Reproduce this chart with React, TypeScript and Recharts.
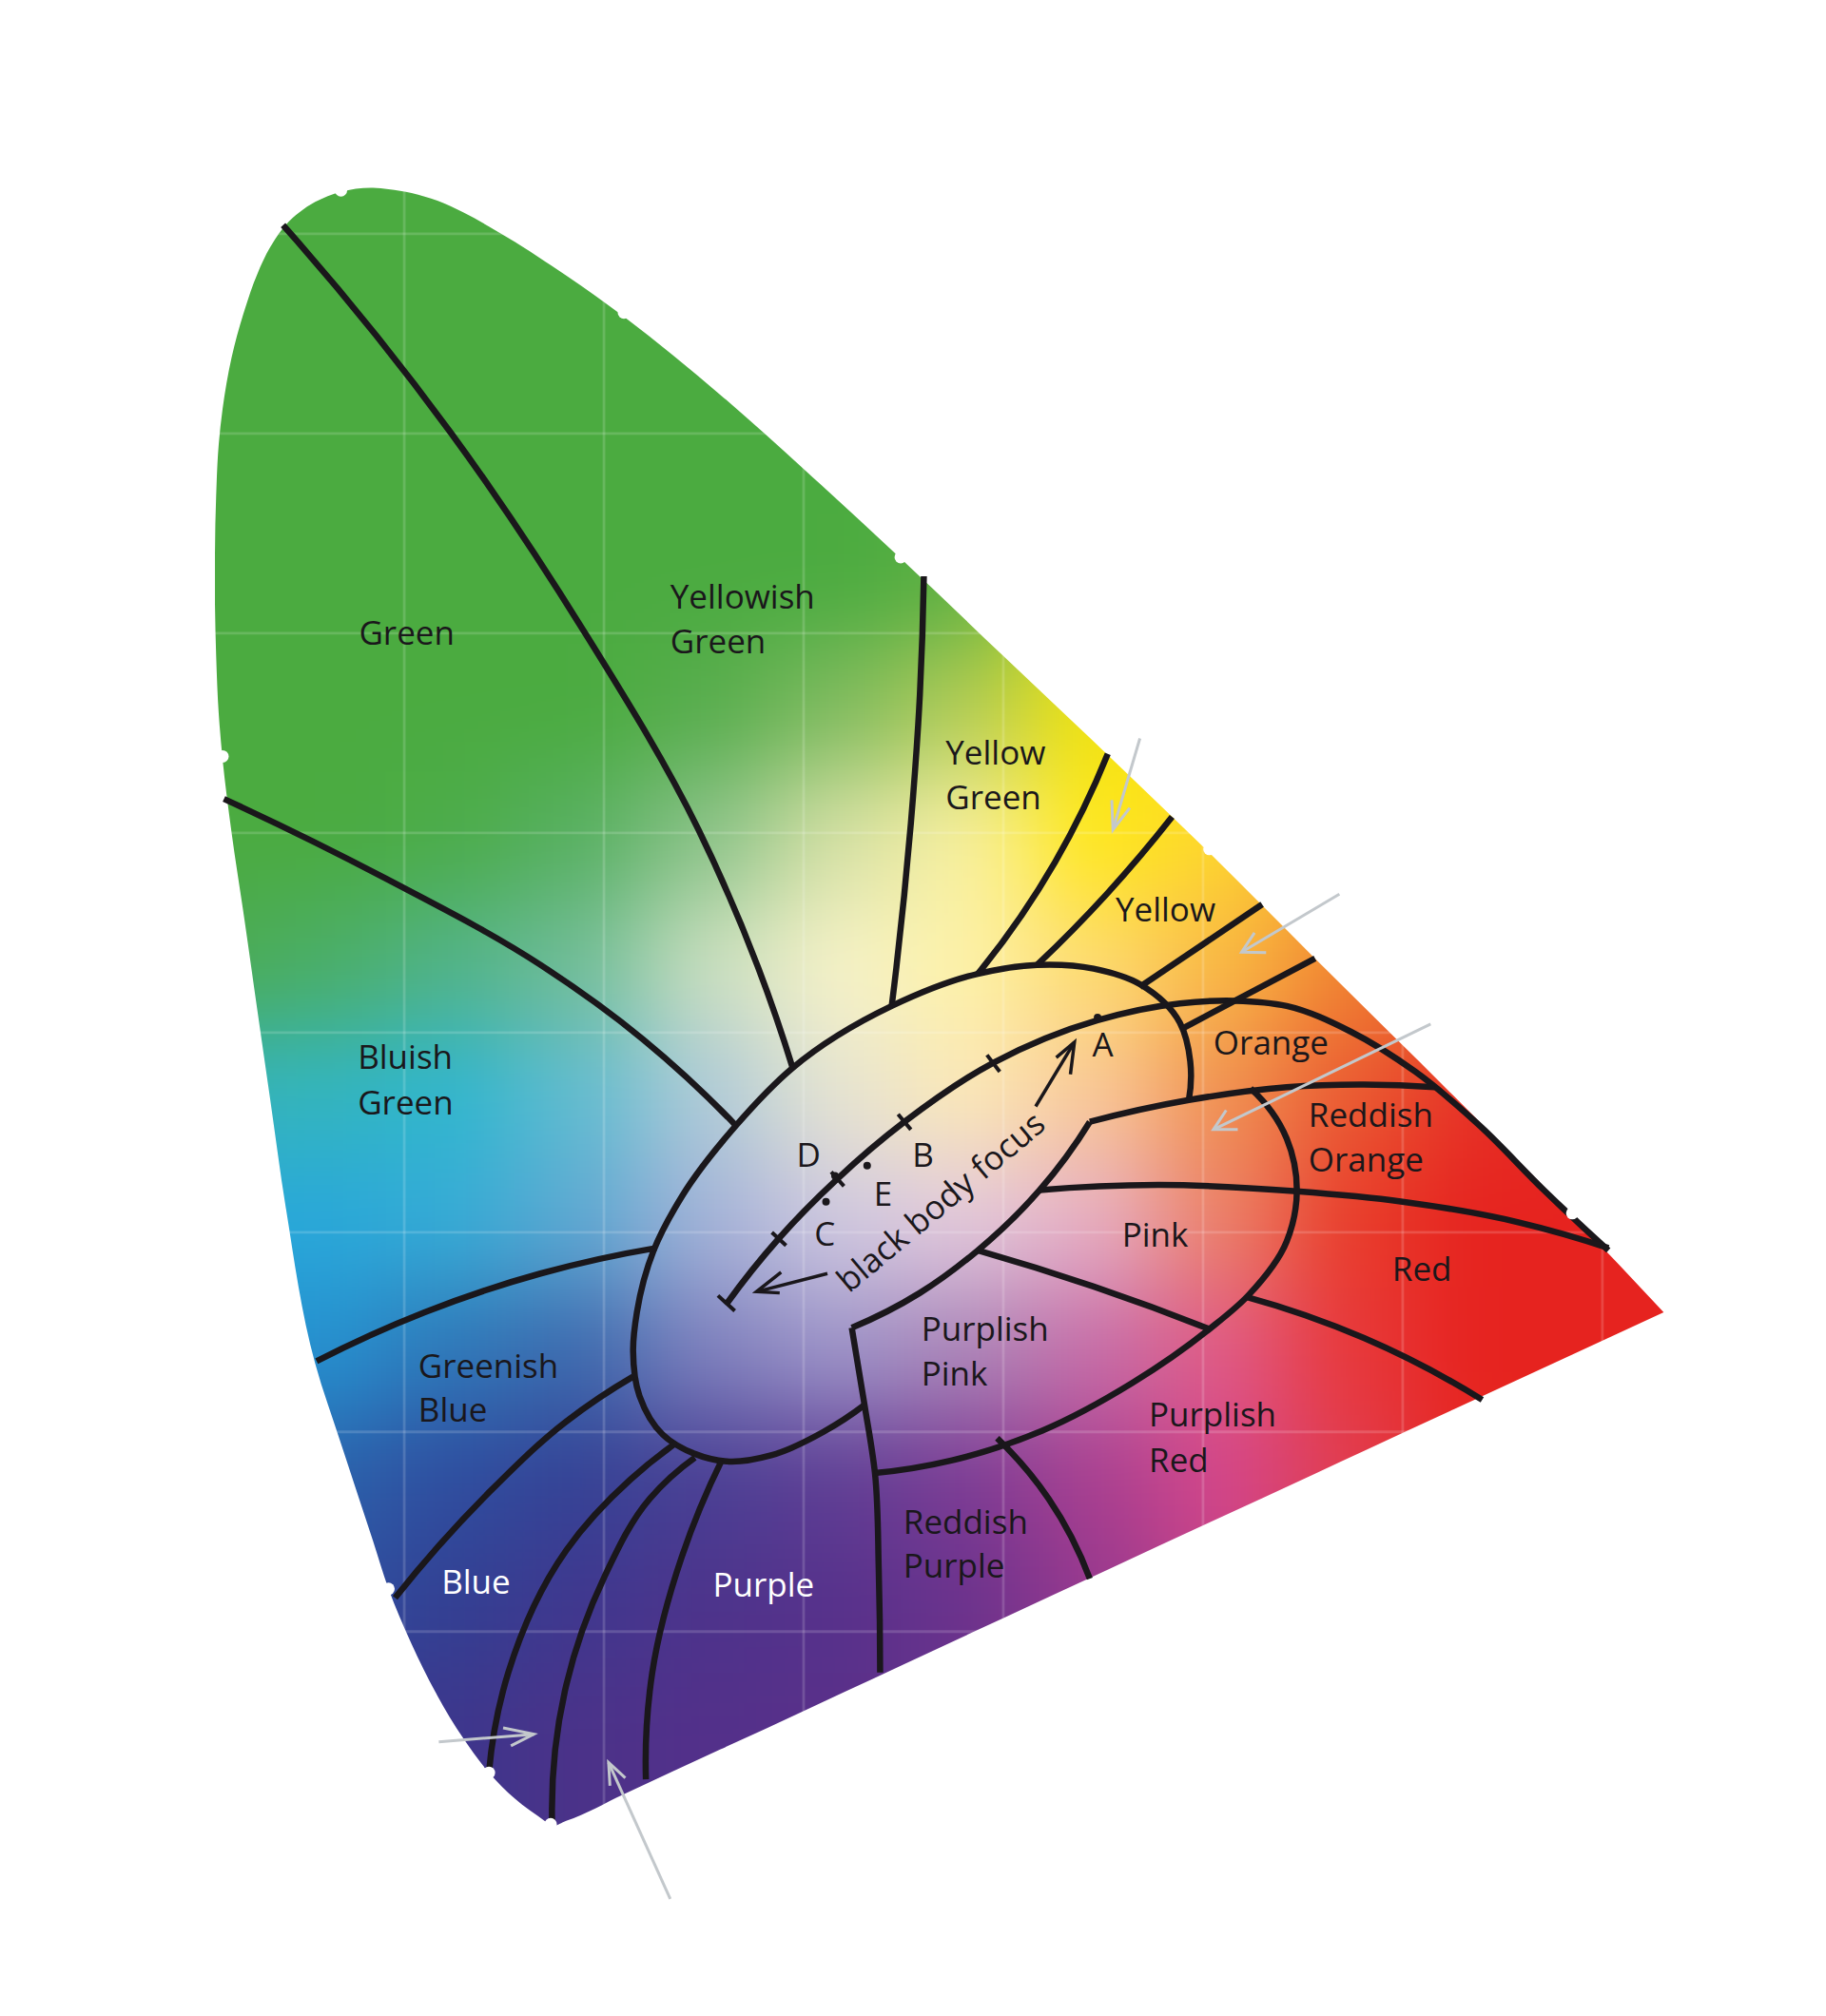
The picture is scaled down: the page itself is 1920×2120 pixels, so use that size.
import { Area, ComposedChart, Line, XAxis, YAxis } from 'recharts';

// chromaticity coordinates
const LOCUS_X = [
  0.0052, 0.0058, 0.0071, 0.009, 0.0135, 0.02, 0.0264, 0.0329, 0.0406, 0.0554, 0.0683, 0.0844,
  0.0921, 0.1037, 0.1166, 0.1295, 0.1424, 0.1553, 0.1707, 0.1733, 0.1811, 0.21, 0.2584, 0.3003, 0.3486,
  0.4001, 0.4517, 0.5032, 0.5561, 0.6256, 0.6849, 0.7307,
];
const LOCUS_UPPER = [
  0.6401, 0.6691, 0.6948, 0.7122, 0.738, 0.7618, 0.7799, 0.7934, 0.8044, 0.816, 0.8211, 0.8231,
  0.8224, 0.8205, 0.8166, 0.8108, 0.8037, 0.796, 0.7861, 0.7844, 0.7792, 0.7586, 0.7193, 0.682, 0.6375,
  0.5885, 0.5396, 0.49, 0.4371, 0.3682, 0.3082, 0.2599,
];
const LOCUS_LOWER = [
  0.6143, 0.5885, 0.5595, 0.537, 0.5003, 0.4564, 0.4113, 0.3662, 0.3128, 0.2342, 0.1942, 0.1452,
  0.1214, 0.0937, 0.0679, 0.0466, 0.0293, 0.0164, 0.0048, 0.0028, 0.0052, 0.0186, 0.041, 0.0604, 0.0829,
  0.1068, 0.1307, 0.1546, 0.1791, 0.2113, 0.2387, 0.2599,
];

const GRID_X = [0.1, 0.2, 0.3, 0.4, 0.5, 0.6, 0.7];
const GRID_Y = [0.1, 0.2, 0.3, 0.4, 0.5, 0.6, 0.7, 0.8];

type P = number[];

const GREEN_EDGE: P[] = [[0.0393, 0.8044], [0.1231, 0.7007], [0.1901, 0.6008], [0.2474, 0.5015], [0.2945, 0.3823]];
const YELLOW_GREEN_EDGE: P[] = [[0.3602, 0.6285], [0.3582, 0.5692], [0.3537, 0.5048], [0.3441, 0.4133]];
const GREEN_YELLOW_EDGE: P[] = [[0.4523, 0.5396], [0.4259, 0.4854], [0.3872, 0.4294]];
const YELLOW_EDGE: P[] = [[0.4845, 0.508], [0.4517, 0.4693], [0.4169, 0.4339]];
const YELLOW_ORANGE_EDGE: P[] = [[0.5296, 0.4642], [0.4684, 0.4229]];
const ORANGE_EDGE: P[] = [[0.5561, 0.4371], [0.489, 0.4017]];
const WHITE_REGION: P[] = [
  [0.4929, 0.3662], [0.4936, 0.3856], [0.4884, 0.4049], [0.4684, 0.4242], [0.4452, 0.432], [0.4169, 0.4339],
  [0.3872, 0.4294], [0.3441, 0.4133], [0.2945, 0.3823], [0.2661, 0.3534], [0.239, 0.3179], [0.2249, 0.2909],
  [0.2165, 0.2599], [0.2146, 0.2406], [0.2178, 0.218], [0.2294, 0.1987], [0.2455, 0.189], [0.2616, 0.1852],
  [0.2841, 0.1884], [0.3099, 0.2], [0.3305, 0.2135],
];
const BLACK_BODY: P[] = [
  [0.2616, 0.2644], [0.2874, 0.2967], [0.3164, 0.3263], [0.3505, 0.3553], [0.395, 0.3849], [0.4472, 0.4062],
  [0.4884, 0.4146], [0.5161, 0.4159], [0.5419, 0.4133], [0.5741, 0.4004], [0.6063, 0.3804], [0.6385, 0.3534],
  [0.6707, 0.3211], [0.703, 0.2909],
];
const RED_EDGE: P[] = [[0.703, 0.2921], [0.6579, 0.305], [0.5999, 0.3153], [0.547, 0.3205], [0.4775, 0.3237], [0.4182, 0.3211]];
const REDDISH_ORANGE_TOP: P[] = [[0.4433, 0.3553], [0.4929, 0.3662], [0.5419, 0.3727], [0.5806, 0.374], [0.616, 0.3727]];
const PINK_LEFT: P[] = [[0.4433, 0.3553], [0.4182, 0.3211], [0.3872, 0.2909], [0.3582, 0.2696], [0.3241, 0.2522]];
const PURPLE_STEM: P[] = [[0.3241, 0.2522], [0.3305, 0.2135], [0.3357, 0.1794], [0.3376, 0.1311], [0.3383, 0.0795]];
const PINK_RIGHT: P[] = [
  [0.5238, 0.372], [0.5419, 0.3469], [0.547, 0.3211], [0.5419, 0.2954], [0.5226, 0.2683], [0.5032, 0.2515],
  [0.4646, 0.2245], [0.4195, 0.2006], [0.3744, 0.1858], [0.3357, 0.1794],
];
const PURPLISH_PINK_EDGE: P[] = [[0.3872, 0.2909], [0.4452, 0.2728], [0.5032, 0.2515]];
const PURPLISH_RED_EDGE: P[] = [[0.5213, 0.2677], [0.5806, 0.247], [0.6398, 0.2161]];
const REDDISH_PURPLE_EDGE: P[] = [[0.3969, 0.1968], [0.4227, 0.1665], [0.4433, 0.1265]];
const BLUISH_GREEN_EDGE: P[] = [[0.0097, 0.517], [0.0908, 0.4771], [0.1682, 0.4339], [0.2197, 0.3965], [0.2661, 0.3534]];
const GREENISH_BLUE_EDGE: P[] = [[0.0561, 0.2354], [0.1102, 0.2599], [0.1682, 0.2793], [0.2262, 0.2921]];
const BLUE_EDGE: P[] = [[0.0954, 0.1169], [0.1424, 0.1697], [0.1811, 0.2052], [0.2146, 0.2277]];
const PURPLE_EDGE_1: P[] = [[0.1424, 0.0293], [0.1521, 0.0795], [0.1811, 0.1407], [0.2133, 0.1762], [0.2358, 0.1942]];
const PURPLE_EDGE_2: P[] = [[0.174, 0.0054], [0.1811, 0.0731], [0.2004, 0.1278], [0.2229, 0.1665], [0.2455, 0.1871]];
const PURPLE_EDGE_3: P[] = [[0.221, 0.026], [0.2242, 0.0795], [0.239, 0.1375], [0.259, 0.1858]];

const CURVES = [
  GREEN_EDGE, YELLOW_GREEN_EDGE, GREEN_YELLOW_EDGE, YELLOW_EDGE, WHITE_REGION, BLACK_BODY, RED_EDGE,
  REDDISH_ORANGE_TOP, PINK_LEFT, PURPLE_STEM, PINK_RIGHT, PURPLISH_PINK_EDGE, PURPLISH_RED_EDGE,
  REDDISH_PURPLE_EDGE, BLUISH_GREEN_EDGE, GREENISH_BLUE_EDGE, BLUE_EDGE, PURPLE_EDGE_1, PURPLE_EDGE_2,
  PURPLE_EDGE_3,
];
const STRAIGHTS = [YELLOW_ORANGE_EDGE, ORANGE_EDGE];

const TEMPERATURE_TICKS: P[][] = [
  [[0.2571, 0.2683], [0.2655, 0.2606]],
  [[0.2841, 0.2999], [0.2912, 0.2934]],
  [[0.3138, 0.3302], [0.3202, 0.3231]],
  [[0.3473, 0.3591], [0.3537, 0.3514]],
  [[0.3918, 0.3888], [0.3982, 0.3804]],
];
const ILLUMINANTS: P[] = [[0.4472, 0.4075], [0.3157, 0.3282], [0.3112, 0.3153], [0.3318, 0.3334]];
const LOCUS_MARKS: P[] = [
  [0.0683, 0.8218], [0.21, 0.7606], [0.3486, 0.6381], [0.009, 0.5383], [0.5032, 0.4919],
  [0.6849, 0.3095], [0.0921, 0.1214], [0.1424, 0.0293], [0.1733, 0.0035],
];

const BLACK_ARROWS: P[][] = [
  [[0.4162, 0.363], [0.4356, 0.3952]],
  [[0.4265, 0.3875], [0.4356, 0.3952], [0.4336, 0.3791]],
  [[0.3119, 0.2793], [0.2764, 0.2702]],
  [[0.2887, 0.2799], [0.2764, 0.2702], [0.288, 0.2696]],
];
const GREY_ARROWS: P[][] = [
  [[0.4684, 0.5473], [0.4549, 0.5016]],
  [[0.4543, 0.5164], [0.4549, 0.5016], [0.4633, 0.5125]],
  [[0.5683, 0.4693], [0.5193, 0.4403]],
  [[0.5258, 0.45], [0.5193, 0.4403], [0.5316, 0.44]],
  [[0.614, 0.4043], [0.5052, 0.3514]],
  [[0.5116, 0.3611], [0.5052, 0.3514], [0.5174, 0.3514]],
  [[0.1173, 0.0447], [0.1649, 0.0486]],
  [[0.1495, 0.0518], [0.1649, 0.0486], [0.1534, 0.0428]],
  [[0.2332, -0.0339], [0.2023, 0.0344]],
  [[0.203, 0.0228], [0.2023, 0.0344], [0.2107, 0.0267]],
];

const DARK_LABELS: [string, number, number][] = [
  ['Green', 0.0773, 0.5943],
  ['Yellowish', 0.2332, 0.6124],
  ['Green', 0.2332, 0.5898],
  ['Yellow', 0.3711, 0.5344],
  ['Green', 0.3711, 0.5119],
  ['Yellow', 0.4562, 0.4558],
  ['Orange', 0.5052, 0.3888],
  ['Reddish', 0.5528, 0.3527],
  ['Orange', 0.5528, 0.3302],
  ['Pink', 0.4594, 0.2928],
  ['Red', 0.5947, 0.2754],
  ['Purplish', 0.3589, 0.2457],
  ['Pink', 0.3589, 0.2232],
  ['Purplish', 0.4729, 0.2026],
  ['Red', 0.4729, 0.18],
  ['Reddish', 0.3499, 0.1491],
  ['Purple', 0.3499, 0.1272],
  ['Greenish', 0.107, 0.2271],
  ['Blue', 0.107, 0.2052],
  ['Bluish', 0.0767, 0.3817],
  ['Green', 0.0767, 0.3591],
  ['A', 0.4446, 0.3881],
  ['B', 0.3544, 0.3327],
  ['C', 0.3054, 0.2934],
  ['D', 0.2964, 0.3327],
  ['E', 0.3351, 0.3134],
];
const WHITE_LABELS: [string, number, number][] = [
  ['Purple', 0.2545, 0.1175],
  ['Blue', 0.1186, 0.1188],
];
const FOCUS_LABEL: [string, number, number][] = [['black body focus', 0.3724, 0.3108]];

// colour field of the fill: one row per band, softened together by a blur
const G = '#4bab40';
const R = '#e6231f';
const V = '#53308a';
const FIELD_COLUMNS = 13;
const FIELD_ROWS: [number, string[]][] = [
  [350, [G, G, G, G, G, G, G, G, G, G, G, G, G]],
  [450, [G, G, G, G, G, G, '#5fb043', '#d4dc20', '#ffe60a', '#ffe60a', '#ffe60a', '#ffe60a', '#ffe60a']],
  [550, [G, G, G, G, '#58ad4e', '#80bb60', '#b3cc55', '#f0e20f', '#ffe60a', '#ffd020', '#ffd020', '#ffd020', '#ffd020']],
  [650, [G, G, '#4cac4a', '#58b062', '#8cc38a', '#d5e0a5', '#f8f0a0', '#ffe81a', '#fdd72e', '#f8a733', '#ee7d30', '#e8402a', R]],
  [750, ['#4bab50', '#4bae68', '#52b388', '#72bd98', '#cbdfc0', '#f6f2c8', '#fdf2a8', '#fddb70', '#f9b844', '#f08330', '#ea5c2c', R, R]],
  [850, ['#36b3b8', '#33b5bf', '#30b6cf', '#62bcd0', '#b0cbd8', '#e6e4d2', '#fbe8b8', '#f9c898', '#f09050', '#ea5a32', '#e63026', R, R]],
  [950, ['#2aa8d8', '#29a8da', '#36abd6', '#5ea8d2', '#a4b2d8', '#cfc8e0', '#e2c8dc', '#e6aec4', '#ec8068', '#e83c2a', R, R, R]],
  [1050, ['#2590cf', '#2590cf', '#2f77b8', '#3d6aae', '#7f80bd', '#9c93c8', '#ab85b8', '#c66da8', '#e05a86', '#e8383a', R, R, R]],
  [1150, ['#2a68af', '#2b62ab', '#2f4d9f', '#354295', '#4a3f94', '#5f3e94', '#7c3b94', '#a83f90', '#d4468a', '#e13d50', '#e6261f', R, R]],
  [1250, ['#2f5aa6', '#2f4f9f', '#333f92', '#40378e', '#4d338b', '#56318b', '#6a328c', '#96388e', '#c04288', '#e0405a', R, R, R]],
  [1350, ['#3d368c', '#3d368c', '#3d368c', '#4b3289', V, '#5a308a', '#6a328c', '#96388e', '#c04288', '#e0405a', R, R, R]],
  [1450, ['#3d368c', '#3d368c', '#3d368c', '#4b3289', V, '#5a308a', '#6a328c', '#96388e', '#c04288', '#e0405a', R, R, R]],
];
const SCALE = 1920 / 1419;
const CELL = 100;

const pts = (list: P[]) => list.map(([x, y]) => ({ x, y }));
const labelRows = (list: [string, number, number][]) => list.map(([label, x, y]) => ({ label, x, y }));
const locusRows = LOCUS_X.map((x, i) => ({ x, range: [LOCUS_LOWER[i], LOCUS_UPPER[i]] }));
const gridColumns = GRID_X.map((x) => [{ x, y: 0 }, { x, y: 0.85 }]);
const gridRows = GRID_Y.map((y) => [{ x: 0, y }, { x: 0.8, y }]);

const FONT = '"Open Sans", sans-serif';
const INK = '#1a171b';

// chord-weighted spline: stays smooth where the read points are unevenly spaced
const smooth = (ctx: any) => {
  let points: number[][] = [];
  let area = false;
  let second = false;
  const unit = (a: number[], b: number[]) => {
    const d = Math.hypot(b[0] - a[0], b[1] - a[1]) || 1;
    return [(b[0] - a[0]) / d, (b[1] - a[1]) / d, d];
  };
  return {
    areaStart() {
      area = true;
      second = false;
    },
    areaEnd() {
      ctx.closePath();
      area = false;
    },
    lineStart() {
      points = [];
    },
    point(x: number, y: number) {
      points.push([+x, +y]);
    },
    lineEnd() {
      const n = points.length;
      if (!n) return;
      if (second) ctx.lineTo(points[0][0], points[0][1]);
      else ctx.moveTo(points[0][0], points[0][1]);
      if (area) second = true;
      if (n === 2) {
        ctx.lineTo(points[1][0], points[1][1]);
        return;
      }
      const tangents: number[][] = points.map(() => [0, 0]);
      for (let i = 1; i < n - 1; i++) {
        const a = unit(points[i - 1], points[i]);
        const b = unit(points[i], points[i + 1]);
        const w = a[2] + b[2];
        tangents[i] = [(a[0] * b[2] + b[0] * a[2]) / w, (a[1] * b[2] + b[1] * a[2]) / w];
      }
      const first = unit(points[0], points[1]);
      tangents[0] = [2 * first[0] - tangents[1][0], 2 * first[1] - tangents[1][1]];
      const last = unit(points[n - 2], points[n - 1]);
      tangents[n - 1] = [2 * last[0] - tangents[n - 2][0], 2 * last[1] - tangents[n - 2][1]];
      for (let i = 0; i < n - 1; i++) {
        const d = unit(points[i], points[i + 1])[2] / 3;
        ctx.bezierCurveTo(
          points[i][0] + tangents[i][0] * d,
          points[i][1] + tangents[i][1] * d,
          points[i + 1][0] - tangents[i + 1][0] * d,
          points[i + 1][1] - tangents[i + 1][1] * d,
          points[i + 1][0],
          points[i + 1][1],
        );
      }
    },
  };
};

const textDot = (fill: string) => (p: any) => (
  <text key={p.index} x={p.cx} y={p.cy} fill={fill} fontFamily={FONT} fontSize={35}>
    {p.payload.label}
  </text>
);

const focusDot = (p: any) => (
  <text
    key={p.index}
    x={p.cx}
    y={p.cy}
    fill={INK}
    fontFamily={FONT}
    fontSize={35}
    textAnchor="middle"
    transform={`rotate(-40 ${p.cx} ${p.cy})`}
  >
    {p.payload.label}
  </text>
);

function stroke(data: any[], key: string, type: any, color: string, width: number) {
  return (
    <Line
      key={key}
      data={data}
      dataKey="y"
      type={type}
      stroke={color}
      strokeWidth={width}
      dot={false}
      activeDot={false}
      isAnimationActive={false}
    />
  );
}

export default function App() {
  return (
    <div style={{ position: 'absolute', left: 0, top: 0, width: 1920, height: 2120, background: '#fff' }}>
      <ComposedChart width={1920} height={2120} margin={{ top: 0, right: 0, bottom: 0, left: 0 }}>
        <defs>
          <filter
            id="soften"
            filterUnits="userSpaceOnUse"
            x={-300}
            y={-300}
            width={2600}
            height={2800}
            colorInterpolationFilters="sRGB"
          >
            <feGaussianBlur stdDeviation={48} />
          </filter>
          <pattern id="field" patternUnits="userSpaceOnUse" x={0} y={0} width={1920} height={2120}>
            <rect width={1920} height={2120} fill={G} />
            <g filter="url(#soften)" shapeRendering="crispEdges">
              <rect x={-200} y={-200} width={2400} height={(300 + 200) * SCALE + 200} fill={G} />
              {FIELD_ROWS.map(([rowY, colors]) =>
                colors.slice(0, FIELD_COLUMNS).map((color, i) => {
                  const first = i === 0;
                  const last = i === FIELD_COLUMNS - 1;
                  const left = first ? -200 : (100 + i * CELL) * SCALE;
                  const right = last ? 2200 : (100 + (i + 1) * CELL) * SCALE;
                  return (
                    <rect
                      key={`${rowY}-${i}`}
                      x={left}
                      y={(rowY - CELL / 2) * SCALE}
                      width={right - left + 1}
                      height={CELL * SCALE + 1}
                      fill={color}
                    />
                  );
                }),
              )}
            </g>
          </pattern>
        </defs>
        <XAxis type="number" dataKey="x" hide domain={[-0.10245, 0.81198]} allowDataOverflow />
        <YAxis type="number" hide domain={[-0.09254, 0.91714]} allowDataOverflow />

        <Area
          data={locusRows}
          dataKey="range"
          type={smooth as any}
          stroke="none"
          fill="url(#field)"
          fillOpacity={1}
          dot={false}
          activeDot={false}
          isAnimationActive={false}
        />

        {/* white on white outside the locus, so the grid only shows inside it */}
        {gridColumns.map((c, i) => stroke(c, `grid-x-${i}`, 'linear', 'rgba(255,255,255,0.16)', 2.8))}
        {gridRows.map((c, i) => stroke(c, `grid-y-${i}`, 'linear', 'rgba(255,255,255,0.16)', 2.8))}

        {CURVES.map((c, i) => stroke(pts(c), `curve-${i}`, smooth, INK, 6.5))}
        {STRAIGHTS.map((c, i) => stroke(pts(c), `straight-${i}`, 'linear', INK, 6.5))}
        {TEMPERATURE_TICKS.map((c, i) => stroke(pts(c), `tick-${i}`, 'linear', INK, 4))}
        {BLACK_ARROWS.map((c, i) => stroke(pts(c), `black-${i}`, 'linear', INK, 3.5))}
        {GREY_ARROWS.map((c, i) => stroke(pts(c), `grey-${i}`, 'linear', '#c3c8cc', 3))}

        <Line data={pts(LOCUS_MARKS)} dataKey="y" stroke="none" dot={{ r: 6.5, fill: '#ffffff', stroke: 'none' }} activeDot={false} isAnimationActive={false} />
        <Line data={pts(ILLUMINANTS)} dataKey="y" stroke="none" dot={{ r: 4, fill: INK, stroke: 'none' }} activeDot={false} isAnimationActive={false} />
        <Line data={labelRows(DARK_LABELS)} dataKey="y" stroke="none" dot={textDot(INK)} activeDot={false} isAnimationActive={false} />
        <Line data={labelRows(WHITE_LABELS)} dataKey="y" stroke="none" dot={textDot('#ffffff')} activeDot={false} isAnimationActive={false} />
        <Line data={labelRows(FOCUS_LABEL)} dataKey="y" stroke="none" dot={focusDot} activeDot={false} isAnimationActive={false} />
      </ComposedChart>
    </div>
  );
}
